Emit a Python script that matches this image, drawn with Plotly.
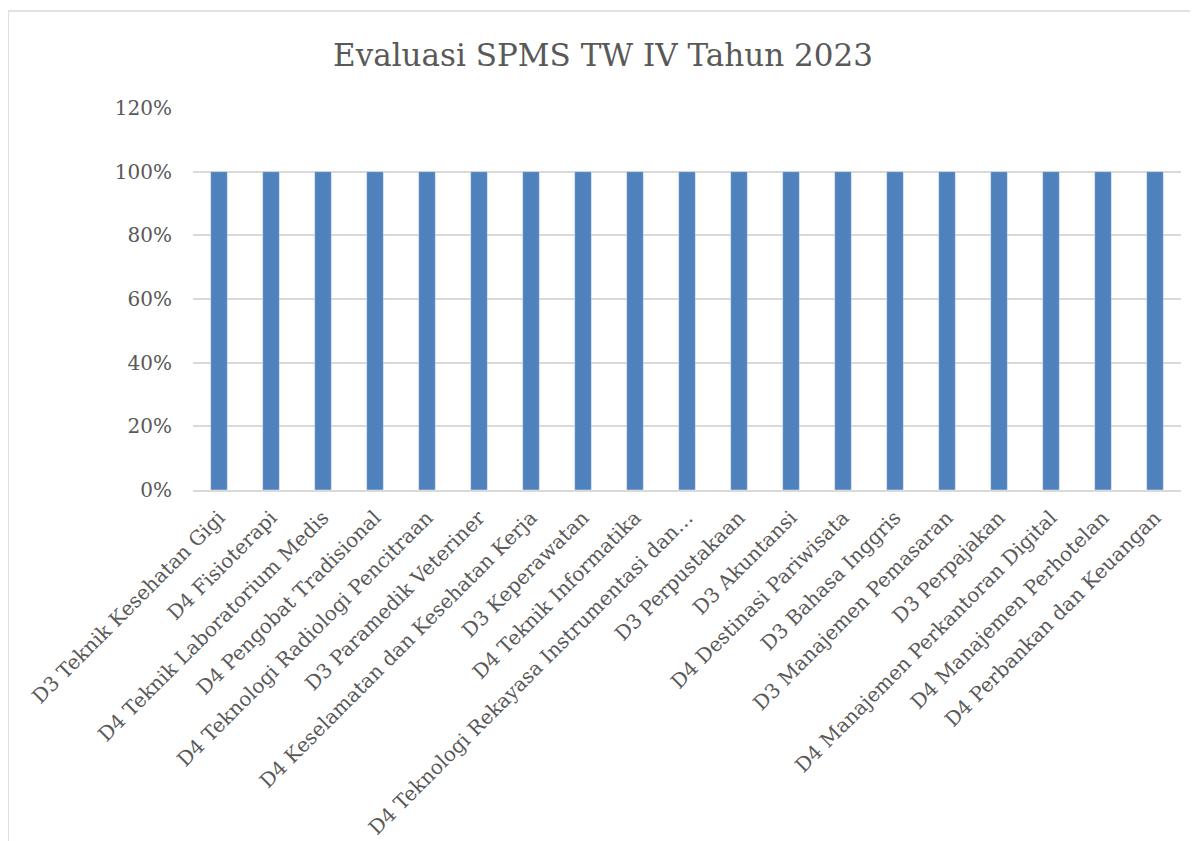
import plotly.graph_objects as go

# Program studi (x-axis categories)
categories = [
    "D3 Teknik Kesehatan Gigi",
    "D4 Fisioterapi",
    "D4 Teknik Laboratorium Medis",
    "D4 Pengobat Tradisional",
    "D4 Teknologi Radiologi Pencitraan",
    "D3 Paramedik Veteriner",
    "D4 Keselamatan dan Kesehatan Kerja",
    "D3 Keperawatan",
    "D4 Teknik Informatika",
    "D4 Teknologi Rekayasa Instrumentasi dan…",
    "D3 Perpustakaan",
    "D3 Akuntansi",
    "D4 Destinasi Pariwisata",
    "D3 Bahasa Inggris",
    "D3 Manajemen Pemasaran",
    "D3 Perpajakan",
    "D4 Manajemen Perkantoran Digital",
    "D4 Manajemen Perhotelan",
    "D4 Perbankan dan Keuangan",
]
values = [1.0] * 19
y_ticks = [0, 0.2, 0.4, 0.6, 0.8, 1.0, 1.2]

TEXT = '#595959'
FONT = 'DejaVu Serif'

fig = go.Figure()
fig.add_trace(go.Bar(
    x=categories,
    y=values,
    marker=dict(color='#4F81BD'),
))

# Chart area border (Excel style)
fig.add_shape(type='rect', xref='paper', yref='paper',
              x0=-0.1872, x1=1.1, y0=-1.0, y1=1.254,
              line=dict(color='#D9D9D9', width=1.5), layer='below')

fig.update_layout(
    title=dict(
        text="Evaluasi SPMS TW IV Tahun 2023",
        font=dict(family=FONT, size=31, color=TEXT),
        x=0.5, xanchor='center',
        y=0.943, yanchor='middle',
    ),
    xaxis=dict(
        tickangle=-45,
        tickfont=dict(family=FONT, size=20, color=TEXT),
        showgrid=False,
        showline=True,
        linecolor='#D9D9D9',
        linewidth=2,
        ticklabelstandoff=6,
        automargin=False,
    ),
    yaxis=dict(
        range=[0, 1.2],
        tickvals=y_ticks,
        tickformat='.0%',
        tickfont=dict(family=FONT, size=20, color=TEXT),
        gridcolor='#D9D9D9',
        gridwidth=1.5,
        zeroline=False,
        ticklabelstandoff=20,
        automargin=False,
    ),
    bargap=0.68,
    showlegend=False,
    width=1190,
    height=833,
    margin=dict(l=185, r=17, t=100, b=351),
    paper_bgcolor='white',
    plot_bgcolor='white',
)

fig.write_html("out.html")
